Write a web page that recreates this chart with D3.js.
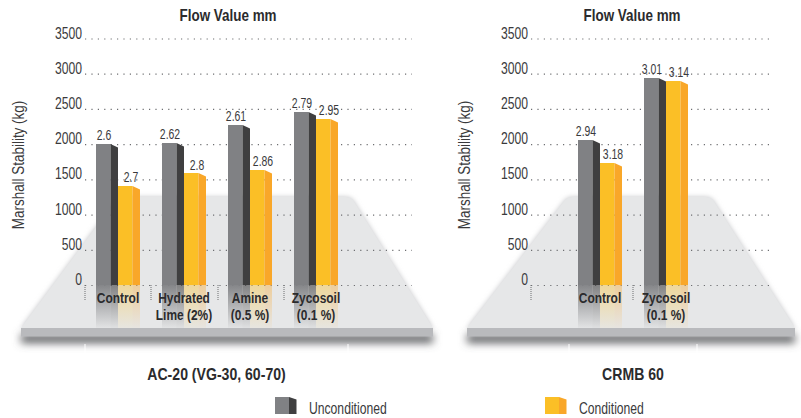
<!DOCTYPE html>
<html>
<head>
<meta charset="utf-8">
<script src="https://cdn.jsdelivr.net/npm/d3@7"></script>
<style>
    html, body { margin: 0; padding: 0; background: #fff; }
    text { font-family: "Liberation Sans", sans-serif; fill: #3a3a3c; }
    .title { font-weight: bold; font-size: 16px; fill: #2b2b2d; }
    .tick-label { font-size: 16px; }
    .value-label { font-size: 14.5px; }
    .category-label { font-weight: bold; font-size: 15.5px; fill: #2b2b2d; }
    .legend-label { font-size: 16px; }
</style>
</head>
<body>
<div id="chart"></div>
<script>
    "use strict";

    // values
    const yTicks = [0, 500, 1000, 1500, 2000, 2500, 3000, 3500];
    const seriesNames = ["Unconditioned", "Conditioned"];

    const leftCategories = [["Control"], ["Hydrated", "Lime (2%)"], ["Amine", "(0.5 %)"], ["Zycosoil", "(0.1 %)"]];
    const leftUnconditioned = [2003, 2017, 2273, 2457];
    const leftConditioned = [1406, 1590, 1633, 2358];
    const leftUnconditionedFlow = ["2.6", "2.62", "2.61", "2.79"];
    const leftConditionedFlow = ["2.7", "2.8", "2.86", "2.95"];

    const rightCategories = [["Control"], ["Zycosoil", "(0.1 %)"]];
    const rightUnconditioned = [2060, 2940];
    const rightConditioned = [1733, 2898];
    const rightUnconditionedFlow = ["2.94", "3.01"];
    const rightConditionedFlow = ["3.18", "3.14"];

    const frontColors = ["#808184", "#fbbf26"];
    const sideColors = ["#3f3f40", "#f9a729"];

    const sideDepth = 7.5;
    const y = d3.scaleLinear().domain([0, 3500]).range([285, 38.5]);

    const svg = d3.select("#chart").append("svg")
        .attr("width", 801)
        .attr("height", 418)
        .style("display", "block");

    const defs = svg.append("defs");

    // the original face is condensed and none is installed, so text is squeezed sideways
    function placeText(selection, x, y, squeeze) {
        return selection.attr("transform", (d, i) => {
            let px = typeof x === "function" ? x(d, i) : x;
            let py = typeof y === "function" ? y(d, i) : y;
            return `translate(${px},${py}) scale(${squeeze},1)`;
        });
    }

    function addBlur(id, deviation) {
        defs.append("filter")
            .attr("id", id)
            .attr("x", "-20%").attr("y", "-150%")
            .attr("width", "140%").attr("height", "400%")
            .append("feGaussianBlur")
            .attr("stdDeviation", deviation);
    }
    addBlur("softEdge", 2.5);
    addBlur("slabShadow", 4.5);

    function addFade(id, color, startOpacity) {
        let gradient = defs.append("linearGradient")
            .attr("id", id)
            .attr("x1", 0).attr("y1", 0)
            .attr("x2", 0).attr("y2", 1);
        gradient.append("stop").attr("offset", "0%").attr("stop-color", color).attr("stop-opacity", startOpacity);
        gradient.append("stop").attr("offset", "100%").attr("stop-color", color).attr("stop-opacity", 0.04);
    }
    addFade("fadeFront0", frontColors[0], 0.95);
    addFade("fadeFront1", frontColors[1], 0.4);
    addFade("fadeSide0", sideColors[0], 0.6);
    addFade("fadeSide1", sideColors[1], 0.4);

    // the grey slab standing under a chart, with its soft shadows
    function drawPlatform(g, p) {
        let outline = `M${p.left},${p.top} L${p.topLeft - 3},${p.topY + 3}
            Q${p.topLeft},${p.topY} ${p.topLeft + 4},${p.topY}
            L${p.topRight - 4},${p.topY}
            Q${p.topRight},${p.topY} ${p.topRight + 3},${p.topY + 3}
            L${p.right},${p.top} Z`;

        g.append("path")
            .attr("d", outline)
            .attr("fill", "#c4c5c8")
            .attr("filter", "url(#softEdge)");

        g.append("rect")
            .attr("x", p.left)
            .attr("y", p.top + 6)
            .attr("width", p.right - p.left)
            .attr("height", 9)
            .attr("fill", "#5f6064")
            .attr("filter", "url(#slabShadow)");

        g.append("path")
            .attr("d", outline)
            .attr("fill", "#e6e7e8");

        g.append("rect")
            .attr("x", p.left)
            .attr("y", p.top)
            .attr("width", p.right - p.left)
            .attr("height", 8.5)
            .attr("fill", "#b9babd");

        // white marks on the shadow
        g.selectAll(".shadow-tick")
            .data(p.shadowTicks)
            .enter()
            .append("line")
            .attr("class", "shadow-tick")
            .attr("x1", d => d).attr("x2", d => d)
            .attr("y1", p.top + 16).attr("y2", p.top + 25)
            .attr("stroke", "#fff")
            .attr("stroke-width", 1);
    }

    function barShape(x0, top, bottom, width) {
        return [[x0, top], [x0 + width, top], [x0 + width, bottom], [x0, bottom]];
    }

    function sideShape(x0, top, bottom, depth, drop) {
        return [[x0, top], [x0 + depth, top + drop], [x0 + depth, bottom], [x0, bottom]];
    }

    function polygon(points) {
        return points.map(p => p.join(",")).join(" ");
    }

    function drawPanel(cfg) {
        let g = svg.append("g");
        drawPlatform(g, cfg.platform);

        let x0 = d3.scaleBand()
            .domain(cfg.categories.map((d, i) => i))
            .range(cfg.bandRange)
            .paddingInner(1 / 3)
            .paddingOuter(1 / 6);
        let x1 = d3.scaleBand()
            .domain([0, 1])
            .range([0, x0.bandwidth()]);

        // horizontal dotted grid and tick labels
        let yAxis = d3.axisLeft(y)
            .tickValues(yTicks)
            .tickSizeInner(0)
            .tickSizeOuter(0)
            .tickPadding(0)
            .tickFormat(d3.format("d"));
        let axisG = g.append("g")
            .attr("transform", `translate(${cfg.axisStart},0)`)
            .call(yAxis);
        axisG.select(".domain").remove();
        axisG.selectAll("text")
            .attr("class", "tick-label")
            .attr("x", 0)
            .attr("dy", "0")
            .attr("font-family", null)
            .attr("font-size", null);
        placeText(axisG.selectAll("text"), -3, -0.5, 0.76);
        axisG.selectAll(".tick line")
            .attr("x1", 0)
            .attr("x2", cfg.axisEnd - cfg.axisStart)
            .attr("stroke", "#6d6e71")
            .attr("stroke-width", 1.2)
            .attr("stroke-dasharray", "1.2 5.2");

        // short dotted separators below the baseline
        g.selectAll(".separator")
            .data(cfg.separators)
            .enter()
            .append("line")
            .attr("class", "separator")
            .attr("x1", d => d).attr("x2", d => d)
            .attr("y1", y(0)).attr("y2", y(0) + 15)
            .attr("stroke", "#6d6e71")
            .attr("stroke-width", 1)
            .attr("stroke-dasharray", "1 1");

        let series = [cfg.unconditioned, cfg.conditioned];
        let flows = [cfg.unconditionedFlow, cfg.conditionedFlow];
        let barWidth = x1.bandwidth() - sideDepth;

        series.forEach((values, s) => {
            let bars = g.selectAll(".bar" + s)
                .data(values)
                .enter()
                .append("g")
                .attr("class", "bar" + s);

            let left = (d, i) => x0(i) + x1(s);

            // floor reflection
            bars.append("rect")
                .attr("x", left)
                .attr("y", y(0))
                .attr("width", barWidth)
                .attr("height", cfg.platform.top - y(0))
                .attr("fill", `url(#fadeFront${s})`);
            bars.append("rect")
                .attr("x", (d, i) => left(d, i) + barWidth)
                .attr("y", y(0))
                .attr("width", sideDepth)
                .attr("height", cfg.platform.top - y(0))
                .attr("fill", `url(#fadeSide${s})`);

            // front and side faces
            bars.append("polygon")
                .attr("points", (d, i) => polygon(barShape(left(d, i), y(d), y(0), barWidth)))
                .attr("fill", frontColors[s]);
            bars.append("polygon")
                .attr("points", (d, i) => polygon(sideShape(left(d, i) + barWidth, y(d), y(0), sideDepth, 3.5)))
                .attr("fill", sideColors[s]);

            // flow value above the bar
            let labels = bars.append("text")
                .attr("class", "value-label")
                .attr("text-anchor", "middle")
                .text((d, i) => flows[s][i]);
            placeText(labels,
                (d, i) => left(d, i) + x1.bandwidth() / 2 - (s === 0 ? 3 : -2),
                d => y(d) - 3.5,
                0.72);
        });

        // category names, lying over the reflection
        cfg.categories.forEach((lines, i) => {
            lines.forEach((line, j) => {
                let label = g.append("text")
                    .attr("class", "category-label")
                    .attr("text-anchor", "middle")
                    .text(line);
                placeText(label, x0(i) + x0.bandwidth() / 2, 302.5 + j * 17, 0.77);
            });
        });

        placeText(g.append("text")
            .attr("class", "title")
            .attr("text-anchor", "middle")
            .text("Flow Value mm"), cfg.titleX, 20.5, 0.84);

        placeText(g.append("text")
            .attr("class", "title")
            .attr("text-anchor", "middle")
            .text(cfg.footer), cfg.footerX, 380, 0.88);

        g.append("text")
            .attr("class", "legend-label")
            .attr("transform", `translate(${cfg.yTitleX},165) rotate(-90) scale(0.84,1)`)
            .attr("text-anchor", "middle")
            .text("Marshall Stability (kg)");
    }

    drawPanel({
        categories: leftCategories,
        unconditioned: leftUnconditioned,
        conditioned: leftConditioned,
        unconditionedFlow: leftUnconditionedFlow,
        conditionedFlow: leftConditionedFlow,
        bandRange: [85, 349],
        axisStart: 85,
        axisEnd: 412,
        separators: [85, 151, 218, 284],
        titleX: 228,
        footerX: 216.5,
        footer: "AC-20 (VG-30, 60-70)",
        yTitleX: 24,
        platform: { left: 21, right: 433, top: 328, topY: 197, topLeft: 119, topRight: 350, shadowTicks: [85, 348] }
    });

    drawPanel({
        categories: rightCategories,
        unconditioned: rightUnconditioned,
        conditioned: rightConditioned,
        unconditionedFlow: rightUnconditionedFlow,
        conditionedFlow: rightConditionedFlow,
        bandRange: [567, 699],
        axisStart: 531,
        axisEnd: 773,
        separators: [531, 633],
        titleX: 632,
        footerX: 633,
        footer: "CRMB 60",
        yTitleX: 469.5,
        platform: { left: 467, right: 795, top: 328, topY: 197, topLeft: 568, topRight: 710, shadowTicks: [569, 697] }
    });

    // legend
    const legendX = [275, 545];
    const legendTextX = [309, 579];
    const legendSwatch = { width: 14, top: 397, bottom: 414 };

    seriesNames.forEach((name, s) => {
        let item = svg.append("g");
        item.append("polygon")
            .attr("points", polygon(barShape(legendX[s], legendSwatch.top, legendSwatch.bottom, legendSwatch.width)))
            .attr("fill", frontColors[s]);
        item.append("polygon")
            .attr("points", polygon(sideShape(legendX[s] + legendSwatch.width, legendSwatch.top, legendSwatch.bottom, sideDepth, 2.5)))
            .attr("fill", sideColors[s]);
        placeText(item.append("text")
            .attr("class", "legend-label")
            .text(name), legendTextX[s], 414, 0.76);
    });
</script>
</body>
</html>
